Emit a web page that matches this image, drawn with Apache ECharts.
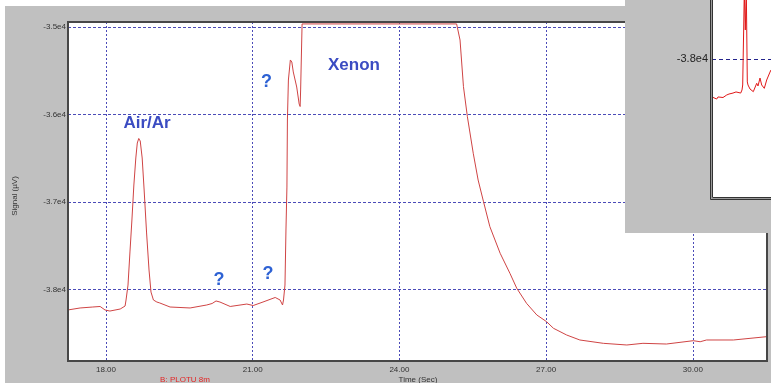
<!DOCTYPE html>
<html>
<head>
<meta charset="utf-8">
<script src="https://cdn.jsdelivr.net/npm/echarts@6/dist/echarts.min.js"></script>
<style>
  html, body { margin: 0; padding: 0; background: #ffffff; }
  #chart { width: 771px; height: 383px; }
</style>
</head>
<body>
<div id="chart"></div>
<script>
// Chromatogram trace: retention time (s) and detector signal (µV)
const mainTime = [
  17.22, 17.47, 17.73, 17.88, 17.98, 18.08, 18.29, 18.39, 18.41, 18.45,
  18.49, 18.53, 18.57, 18.61, 18.64, 18.67, 18.70, 18.74, 18.78, 18.83,
  18.88, 18.92, 18.97, 19.04, 19.10, 19.31, 19.72, 20.06, 20.17, 20.25,
  20.33, 20.54, 20.88, 21.01, 21.21, 21.46, 21.56, 21.61, 21.63, 21.66,
  21.68, 21.70, 21.71, 21.73, 21.77, 21.80, 21.83, 21.90, 21.95, 21.97,
  21.98, 22.01, 25.17, 25.24, 25.31, 25.39, 25.51, 25.61, 25.72, 25.85,
  26.06, 26.26, 26.40, 26.60, 26.81, 27.01, 27.15, 27.42, 27.69, 28.17,
  28.65, 28.98, 29.46, 30.01, 30.15, 30.28, 30.83, 31.51
];
const mainSignal = [
  -38234, -38211, -38200, -38194, -38234, -38246, -38223, -38189, -38120, -37949,
  -37571, -37206, -36806, -36497, -36326, -36274, -36303, -36497, -36863, -37354,
  -37777, -38029, -38120, -38143, -38154, -38200, -38211, -38177, -38160, -38131,
  -38143, -38194, -38166, -38183, -38143, -38091, -38120, -38177, -38120, -37949,
  -37320, -36829, -36063, -35606, -35377, -35400, -35514, -35686, -35880, -35909,
  -35720, -34965, -34965, -35149, -35682, -36025, -36443, -36749, -36997, -37282,
  -37586, -37815, -37986, -38158, -38291, -38368, -38443, -38520, -38577, -38615,
  -38634, -38615, -38623, -38585, -38597, -38577, -38577, -38539
];

// Expanded view of the baseline around the small spike
const insetTime = [
  0.00, 0.20, 0.47, 0.60, 0.80, 1.10, 1.47, 1.70, 1.90, 2.10,
  2.40, 2.60, 2.87, 3.00, 3.07, 3.17, 3.23, 3.33, 3.43, 3.53,
  3.60, 3.80, 4.13, 4.47, 4.60, 4.80, 4.97, 5.23, 5.47, 5.80, 5.90
];
const insetSignal = [
  -38273, -38266, -38288, -38273, -38270, -38277, -38259, -38252, -38259, -38245,
  -38237, -38227, -38245, -38223, -38187, -37777, -37504, -37791, -37504, -38165,
  -38187, -38216, -38235, -38175, -38194, -38137, -38187, -38211, -38151, -38094, -38079
];

// Tick labels shown on the axes
const timeTicks = [18, 21, 24, 27, 30];
const signalTicks = [-35000, -36000, -37000, -38000];
const insetSignalTicks = [-38000];

const sciLabel = v => (v / 1e4).toFixed(1) + 'e4';
const labelFont = 'Liberation Sans, Arial, sans-serif';
const gridBlue = '#4b4bb8';

const chart = echarts.init(document.getElementById('chart'), null, { renderer: 'canvas' });

chart.setOption({
  animation: false,
  backgroundColor: '#c0c0c0',
  grid: [
    {
      left: 68, right: 4, top: 22, bottom: 22, outerBoundsMode: 'none',
      show: true, backgroundColor: '#ffffff', borderWidth: 0, z: 0
    },
    {
      // upper part of this plot area runs above the canvas
      left: 712, right: 0, top: -80, height: 278, outerBoundsMode: 'none',
      show: true, backgroundColor: '#ffffff', borderWidth: 0, z: 60
    }
  ],
  xAxis: [
    {
      type: 'value', gridIndex: 0, min: 17.223, max: 31.517,
      axisLine: { show: false }, axisTick: { show: false },
      axisLabel: {
        show: true, showMinLabel: false, showMaxLabel: false, margin: 5,
        fontFamily: labelFont, fontSize: 8, color: '#333333',
        formatter: v => timeTicks.includes(Math.round(v * 100) / 100) ? v.toFixed(2) : ''
      },
      splitLine: { show: true, lineStyle: { color: gridBlue, width: 1, type: [2, 2] } }
    },
    {
      type: 'value', gridIndex: 1, min: 0, max: 5.9, show: false, z: 61
    }
  ],
  yAxis: [
    {
      type: 'value', gridIndex: 0, min: -38817, max: -34943, splitNumber: 4,
      axisLine: { show: false }, axisTick: { show: false },
      axisLabel: {
        show: true, showMinLabel: false, showMaxLabel: false, margin: 2,
        fontFamily: labelFont, fontSize: 8, color: '#333333',
        formatter: v => signalTicks.includes(v) ? sciLabel(v) : ''
      },
      splitLine: { show: true, lineStyle: { color: gridBlue, width: 1, type: [3, 2] } }
    },
    {
      type: 'value', gridIndex: 1, min: -39000, max: -37000, interval: 1000, z: 61,
      axisLine: { show: false }, axisTick: { show: false },
      axisLabel: {
        show: true, margin: 4,
        fontFamily: labelFont, fontSize: 11, color: '#222222',
        formatter: v => insetSignalTicks.includes(v) ? sciLabel(v) : ''
      },
      splitLine: { show: true, lineStyle: { color: '#23238c', width: 1, type: [4, 3] } }
    }
  ],
  series: [
    {
      type: 'line', xAxisIndex: 0, yAxisIndex: 0, z: 2,
      showSymbol: false, clip: true,
      lineStyle: { color: '#cf4444', width: 1 },
      data: mainTime.map((t, i) => [t, mainSignal[i]])
    },
    {
      type: 'line', xAxisIndex: 1, yAxisIndex: 1, z: 62,
      showSymbol: false, clip: true,
      lineStyle: { color: '#e01818', width: 1 },
      data: insetTime.map((t, i) => [t, insetSignal[i]])
    }
  ],
  graphic: [
    // light margins at the top and left edge
    { type: 'rect', z: -5, silent: true, shape: { x: 0, y: 0, width: 625, height: 6 }, style: { fill: '#ffffff' } },
    { type: 'rect', z: -5, silent: true, shape: { x: 0, y: 0, width: 5, height: 383 }, style: { fill: '#ffffff' } },
    // frame of the main plot
    { type: 'rect', z: 5, silent: true, shape: { x: 68, y: 22, width: 699, height: 339 }, style: { fill: null, stroke: '#474747', lineWidth: 2 } },
    // panel behind the expanded view
    { type: 'rect', z: 50, silent: true, shape: { x: 625, y: 0, width: 146, height: 233 }, style: { fill: '#c0c0c0' } },
    // frame of the expanded view
    { type: 'polyline', z: 63, silent: true, shape: { points: [[710.5, 0], [710.5, 199.5], [771, 199.5]] }, style: { stroke: '#333333', lineWidth: 1, fill: null } },
    { type: 'polyline', z: 63, silent: true, shape: { points: [[711.5, 0], [711.5, 198.5], [771, 198.5]] }, style: { stroke: '#9a9a9a', lineWidth: 1, fill: null } },
    { type: 'polyline', z: 63, silent: true, shape: { points: [[712.5, 0], [712.5, 197.5], [771, 197.5]] }, style: { stroke: '#333333', lineWidth: 1, fill: null } },
    // axis titles
    { type: 'text', z: 70, silent: true, x: 15, y: 196, rotation: Math.PI / 2,
      style: { text: 'Signal (µV)', fontFamily: labelFont, fontSize: 8, fill: '#333333', align: 'center', verticalAlign: 'middle' } },
    { type: 'text', z: 70, silent: true, x: 418, y: 380,
      style: { text: 'Time (Sec)', fontFamily: labelFont, fontSize: 8, fill: '#333333', align: 'center', verticalAlign: 'middle' } },
    { type: 'text', z: 70, silent: true, x: 185, y: 380,
      style: { text: 'B: PLOTU 8m', fontFamily: labelFont, fontSize: 8, fill: '#e32626', align: 'center', verticalAlign: 'middle' } },
    // peak annotations
    { type: 'text', z: 70, silent: true, x: 147, y: 123,
      style: { text: 'Air/Ar', fontFamily: labelFont, fontWeight: 'bold', fontSize: 17, fill: '#3b4cc2', align: 'center', verticalAlign: 'middle' } },
    { type: 'text', z: 70, silent: true, x: 354, y: 65,
      style: { text: 'Xenon', fontFamily: labelFont, fontWeight: 'bold', fontSize: 17, fill: '#3b4cc2', align: 'center', verticalAlign: 'middle' } },
    { type: 'text', z: 70, silent: true, x: 266.5, y: 82,
      style: { text: '?', fontFamily: labelFont, fontWeight: 'bold', fontSize: 18, fill: '#2e62d4', align: 'center', verticalAlign: 'middle' } },
    { type: 'text', z: 70, silent: true, x: 219, y: 280,
      style: { text: '?', fontFamily: labelFont, fontWeight: 'bold', fontSize: 18, fill: '#2e62d4', align: 'center', verticalAlign: 'middle' } },
    { type: 'text', z: 70, silent: true, x: 268, y: 274,
      style: { text: '?', fontFamily: labelFont, fontWeight: 'bold', fontSize: 18, fill: '#2e62d4', align: 'center', verticalAlign: 'middle' } }
  ]
});
</script>
</body>
</html>
